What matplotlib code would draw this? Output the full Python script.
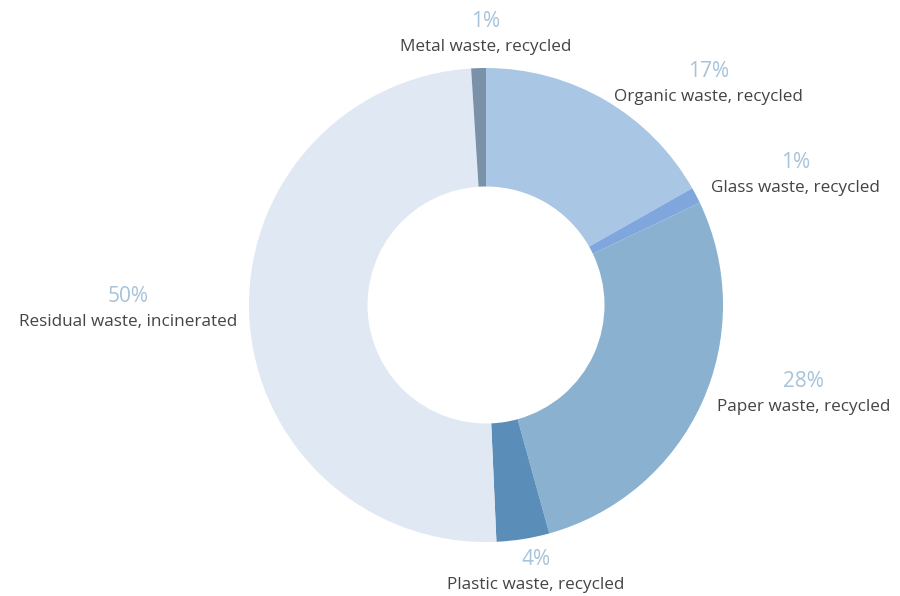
import numpy as np
import matplotlib
matplotlib.use("Agg")
import matplotlib.pyplot as plt
from matplotlib.offsetbox import TextArea, VPacker, AnnotationBbox

plt.rcParams['font.family'] = ['Open Sans', 'DejaVu Sans']

# slices, clockwise from 12 o'clock
names = ["Organic waste, recycled", "Glass waste, recycled", "Paper waste, recycled",
         "Plastic waste, recycled", "Residual waste, incinerated", "Metal waste, recycled"]
shares = [16.8, 1.1, 27.8, 3.6, 49.7, 1.0]
pct_labels = ["17%", "1%", "28%", "4%", "50%", "1%"]
colors = ["#a9c7e4", "#7fa7de", "#8ab1cf", "#5b8db9", "#dfe8f3", "#7a91a7"]

# small label nudges (pixels) so labels sit where the original's do
label_dx = [0, 0, 0, 10, 4, 8]
label_dy = [-13, 5, 25, 3, 12, 0]

fig = plt.figure(figsize=(9, 5.96), dpi=100)
ax = fig.add_axes([0, 0, 1, 1])

wedges, _ = ax.pie(shares, colors=colors, startangle=90, counterclock=False,
                   radius=1.0, wedgeprops=dict(width=0.5, edgecolor="none"))

# place the donut like the original (center ~ (486, 305) px, radius ~237 px)
R = 237.0
cx, cy = 486.0, 596 - 305.0
ax.set_aspect("auto")
ax.set_xlim(-cx / R, (900 - cx) / R)
ax.set_ylim(-cy / R, (596 - cy) / R)
ax.axis("off")

for w, name, pct, dx, dy in zip(wedges, names, pct_labels, label_dx, label_dy):
    ang = np.deg2rad((w.theta1 + w.theta2) / 2)
    x, y = 1.07 * np.cos(ang), 1.15 * np.sin(ang)
    if abs(x) < 0.35:
        box_al = (0.5, 0.5)
    elif x > 0:
        box_al = (0.0, 0.5)
    else:
        box_al = (1.0, 0.5)
    t1 = TextArea(pct, textprops=dict(color="#a6c3da", fontsize=15))
    t2 = TextArea(name, textprops=dict(color="#444444", fontsize=12.3))
    pack = VPacker(children=[t1, t2], align="center", pad=0, sep=5)
    ab = AnnotationBbox(pack, (x, y), xybox=(dx, dy), boxcoords="offset pixels",
                        box_alignment=box_al, frameon=False)
    ax.add_artist(ab)

fig.savefig("out.png", dpi=100)
